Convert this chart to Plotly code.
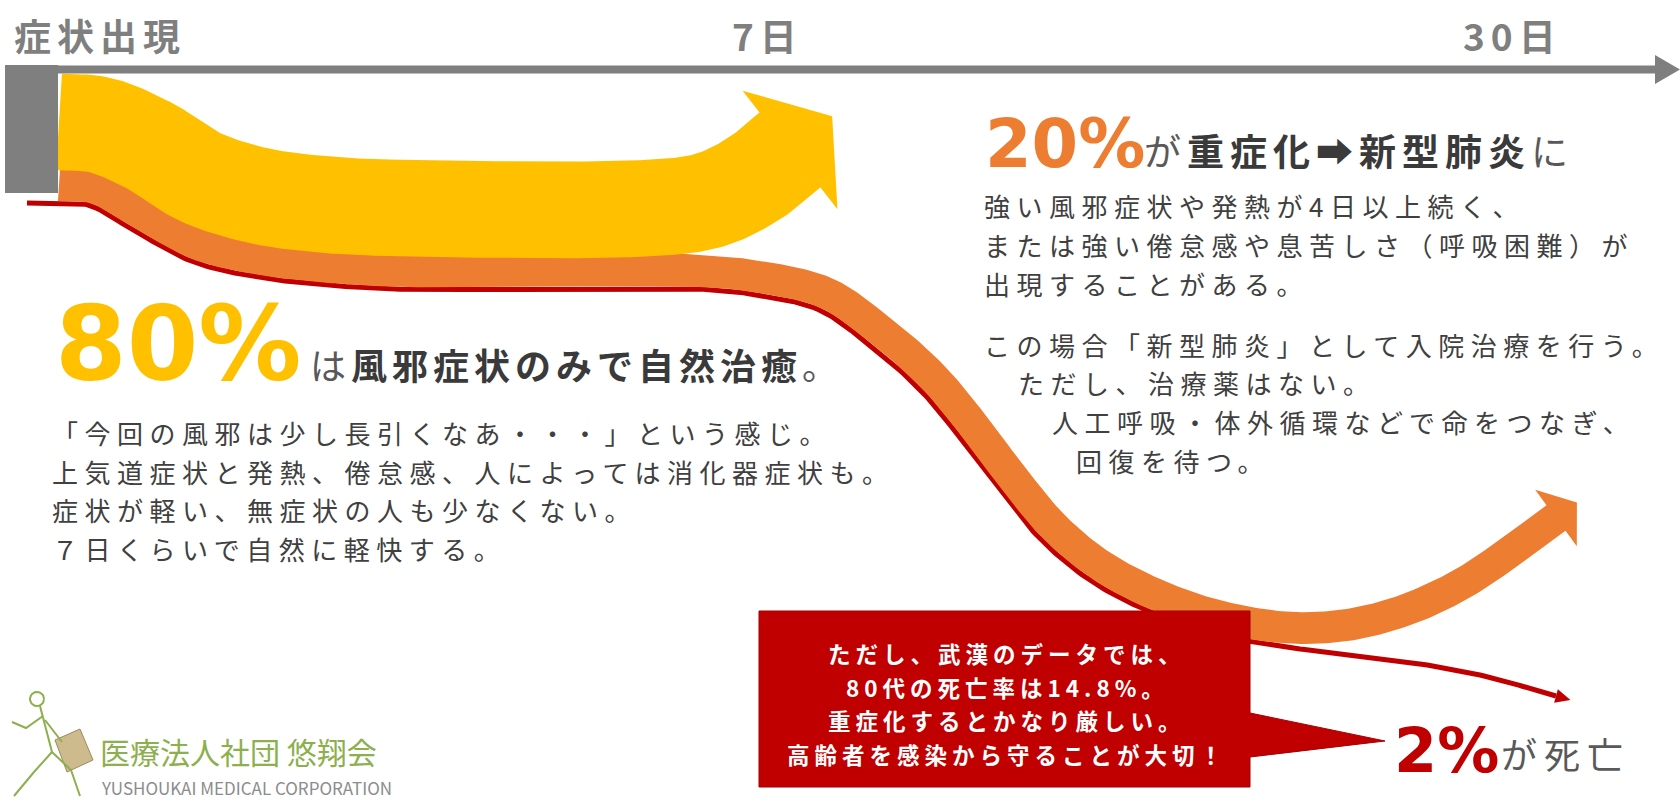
import numpy as np
import plotly.graph_objects as go

# ---------------- data ----------------
stage_labels = ["症状出現", "7日", "30日"]
outcome_pct = [80, 20, 2]                     # 自然治癒 / 重症化 / 死亡
outcome_pct_labels = [f"{p}%" for p in outcome_pct]
headline_parts = [
    [("は", False), ("風邪症状のみで自然治癒", True), ("。", False)],
    [("が", False), ("重症化➡新型肺炎", True), ("に", False)],
    [("が死亡", False)],
]
mild_lines = [
    "「今回の風邪は少し長引くなあ・・・」という感じ。",
    "上気道症状と発熱、倦怠感、人によっては消化器症状も。",
    "症状が軽い、無症状の人も少なくない。",
    "７日くらいで自然に軽快する。",
]
severe_lines = [
    "強い風邪症状や発熱が4日以上続く、",
    "または強い倦怠感や息苦しさ（呼吸困難）が",
    "出現することがある。",
    "この場合「新型肺炎」として入院治療を行う。",
    "ただし、治療薬はない。",
    "人工呼吸・体外循環などで命をつなぎ、",
    "回復を待つ。",
]
callout_lines = [
    "ただし、武漢のデータでは、",
    "80代の死亡率は14.8%。",
    "重症化するとかなり厳しい。",
    "高齢者を感染から守ることが大切！",
]
org_name = "医療法人社団 悠翔会"
org_name_en = "YUSHOUKAI MEDICAL CORPORATION"

# ---------------- layout / geometry ----------------
FIG_W, FIG_H = 1680, 801
CJK = "Noto Sans CJK JP, DejaVu Sans"
PCT_FONT = "DejaVu Sans"
YELLOW, ORANGE, RED, GRAY = "#FFC000", "#ED7D31", "#C00000", "#7F7F7F"
TXT, TXT2 = "#404040", "#595959"

tick_x = [12, 805, 1564]
tick_anchor = ["left", "right", "right"]
tick_y = 35

# flow centre-lines (schematic path of each stream)
yellow_path = [(59, 122), (100, 125), (150, 146), (200, 177), (260, 196), (330, 205),
               (400, 208), (650, 208), (710, 200), (755, 178), (790, 150)]
orange_path = [(59, 185), (95, 188), (150, 219), (200, 245), (260, 259), (330, 267),
               (400, 271), (700, 271), (760, 277), (826, 293), (880, 330), (934, 378),
               (977, 430), (1013, 478), (1055, 528), (1100, 565), (1150, 592),
               (1210, 614), (1280, 627), (1340, 626), (1400, 612), (1460, 585),
               (1510, 552), (1556, 518)]
red_start = (27, 203)
red_split_x = 1260
red_tail = [(1300, 649), (1380, 658), (1480, 675), (1556, 696)]
heads = {"yellow": (76, 54), "orange": (35, 26), "red": (7, 15)}


def band_width(p):
    return 2.9 * p ** 0.8


def crspline(pts):
    P = [np.array(p, float) for p in pts]
    P = [2 * P[0] - P[1]] + P + [2 * P[-1] - P[-2]]
    out = []
    for i in range(len(P) - 3):
        p0, p1, p2, p3 = P[i:i + 4]
        t0 = 0.0
        t1 = t0 + np.linalg.norm(p1 - p0) ** 0.5
        t2 = t1 + np.linalg.norm(p2 - p1) ** 0.5
        t3 = t2 + np.linalg.norm(p3 - p2) ** 0.5
        n = max(4, int(np.linalg.norm(p2 - p1) / 3))
        for t in np.linspace(t1, t2, n, endpoint=False):
            A1 = (t1 - t) / (t1 - t0) * p0 + (t - t0) / (t1 - t0) * p1
            A2 = (t2 - t) / (t2 - t1) * p1 + (t - t1) / (t2 - t1) * p2
            A3 = (t3 - t) / (t3 - t2) * p2 + (t - t2) / (t3 - t2) * p3
            B1 = (t2 - t) / (t2 - t0) * A1 + (t - t0) / (t2 - t0) * A2
            B2 = (t3 - t) / (t3 - t1) * A2 + (t - t1) / (t3 - t1) * A3
            out.append((t2 - t) / (t2 - t1) * B1 + (t - t1) / (t2 - t1) * B2)
    out.append(P[-2])
    return np.array(out)


def normals(C):
    d = np.gradient(C, axis=0)
    d /= np.linalg.norm(d, axis=1, keepdims=True)
    return d, np.stack([d[:, 1], -d[:, 0]], axis=1)


def arrow_head(end, prev, half, length):
    t = np.array(end, float) - np.array(prev, float)
    t /= np.linalg.norm(t)
    nrm = np.array([t[1], -t[0]])
    e = np.array(end, float)
    return e + nrm * half, e + t * length, e - nrm * half


def band(path, width, head, extra_top=None):
    C = crspline(path)
    _, n = normals(C)
    top_off = np.full(len(C), width / 2)
    if extra_top is not None:
        top_off = top_off + extra_top(C[:, 0])
    top = C + n * top_off[:, None]
    bot = C - n * (width / 2)
    up, tip, lo = arrow_head(path[-1], path[-2], *head)
    poly = np.vstack([top, up, tip, lo, bot[::-1], top[:1]])
    return poly, C, n


w_y, w_o, w_r = [band_width(p) for p in outcome_pct]

yellow_poly, _, _ = band(yellow_path, w_y, heads["yellow"])
hidden = lambda x: np.interp(x, [0, 620, 690, 2000], [5, 5, 0, 0])
orange_poly, oC, on = band(orange_path, w_o, heads["orange"], extra_top=hidden)

# red stream: runs along the lower edge of the orange stream, then splits off
red_edge = oC - on * (w_o / 2 + w_r / 2 - 0.3)
red_edge = red_edge[red_edge[:, 0] <= red_split_x]
red_tail_pts = crspline([tuple(red_edge[-1])] + red_tail)
red_line = np.vstack([np.array([red_start]), red_edge, red_tail_pts])
r_up, r_tip, r_lo = arrow_head(red_tail[-1], red_tail[-2], *heads["red"])

fig = go.Figure()


def poly_trace(P, color, line_color=None, lw=0):
    fig.add_trace(go.Scatter(x=P[:, 0], y=P[:, 1], mode="lines", fill="toself",
                             fillcolor=color, line=dict(width=lw, color=line_color or color),
                             hoverinfo="skip"))


fig.add_trace(go.Scatter(x=red_line[:, 0], y=red_line[:, 1], mode="lines",
                         line=dict(color=RED, width=w_r), hoverinfo="skip"))
poly_trace(np.array([r_up, r_tip, r_lo, r_up]), RED)
poly_trace(orange_poly, ORANGE)
poly_trace(yellow_poly, YELLOW)

# callout box with pointer
box_x0, box_x1, box_y0, box_y1 = 759, 1250, 611, 787
ptr_y0, ptr_y1, ptr_tip = 713, 757, (1385, 741)
callout = np.array([(box_x0, box_y0), (box_x1, box_y0), (box_x1, ptr_y0), ptr_tip,
                    (box_x1, ptr_y1), (box_x1, box_y1), (box_x0, box_y1), (box_x0, box_y0)], float)
poly_trace(callout, RED, "#A30000", 1)

# logo figure (running man carrying a bag)
LOGO_G = "#8DAF4E"
bag = np.array([(55, 740), (80, 729), (93, 760), (67, 772), (55, 740)], float)
poly_trace(bag, "#CDBB8E", "#9C8A5E", 1)
th = np.linspace(0, 2 * np.pi, 30)
logo_lines = [
    np.c_[37 + 7 * np.cos(th), 699 + 7 * np.sin(th)],
    np.array([(40, 706), (46, 730), (52, 752)]),
    np.array([(43, 716), (26, 728), (12, 722)]),
    np.array([(45, 720), (62, 742)]),
    np.array([(52, 752), (34, 772), (14, 796)]),
    np.array([(52, 752), (71, 770), (80, 796)]),
]
for L in logo_lines:
    fig.add_trace(go.Scatter(x=L[:, 0], y=L[:, 1], mode="lines",
                             line=dict(color=LOGO_G, width=2), hoverinfo="skip"))

shapes = [
    dict(type="rect", xref="x", yref="y", x0=5, x1=58, y0=65, y1=193,
         fillcolor=GRAY, line=dict(width=0), layer="above"),
    dict(type="rect", xref="x", yref="y", x0=5, x1=1658, y0=65.5, y1=73.5,
         fillcolor=GRAY, line=dict(width=0), layer="above"),
    dict(type="path", xref="x", yref="y", path="M 1655 55 L 1680 69.5 L 1655 84 Z",
         fillcolor=GRAY, line=dict(width=0), layer="above"),
]

anns = []


def ann(x, y, text, size, color, anchor="left", family=CJK, ls=0):
    if ls:
        text = f'<span style="letter-spacing:{ls}px">{text}</span>'
    anns.append(dict(x=x, y=y, xref="x", yref="y", text=text, showarrow=False,
                     xanchor=anchor, yanchor="middle",
                     font=dict(family=family, size=size, color=color)))


def parts_html(parts):
    s = ""
    for txt, b in parts:
        s += f"<b>{txt}</b>" if b else f'<span style="color:{TXT2}">{txt}</span>'
    return s


for lab, x, a in zip(stage_labels, tick_x, tick_anchor):
    ann(x, tick_y, f"<b>{lab}</b>", 37, GRAY, a, ls=6)

# big percentages + headlines
pct_pos = [(53, 344, 103, YELLOW), (983, 144, 67, ORANGE), (1392, 750, 62, RED)]
tail_pos = [(308, 364, 36, 5), (1142, 150, 37, 6), (1499, 753, 36, 7)]
for lab, (x, y, s, c), parts, (tx, ty, ts, tls) in zip(outcome_pct_labels, pct_pos,
                                                       headline_parts, tail_pos):
    ann(x, y, f"<b>{lab}</b>", s, c, family=PCT_FONT)
    ann(tx, ty, parts_html(parts), ts, "#3A3A3A", ls=tls)

BODY, BODY_LS = 26, 6.5
mild_y = [432, 471, 509, 548]
for t, y in zip(mild_lines, mild_y):
    ann(50, y, t, BODY, TXT, ls=BODY_LS)

sev_x = [982, 982, 982, 982, 1016, 1050, 1074]
sev_y = [205, 244, 283, 344, 382, 421, 460]
for t, x, y in zip(severe_lines, sev_x, sev_y):
    ann(x, y, t, BODY, TXT, ls=BODY_LS)

call_y = [653, 687, 720, 754]
for t, y in zip(callout_lines, call_y):
    ann((box_x0 + box_x1) / 2 + 2.5, y, f"<b>{t}</b>", 22.5, "white", "center", ls=5)

ann(98, 751, org_name, 30, LOGO_G)
ann(99, 787, org_name_en, 17, "#8C8C8C")

fig.update_layout(
    width=FIG_W, height=FIG_H, autosize=False,
    margin=dict(l=0, r=0, t=0, b=0, pad=0),
    paper_bgcolor="white", plot_bgcolor="white",
    showlegend=False, hovermode=False,
    xaxis=dict(range=[0, FIG_W], visible=False, fixedrange=True),
    yaxis=dict(range=[FIG_H, 0], visible=False, fixedrange=True),
    shapes=shapes, annotations=anns,
)
fig.write_html("out.html", config={"displayModeBar": False})
